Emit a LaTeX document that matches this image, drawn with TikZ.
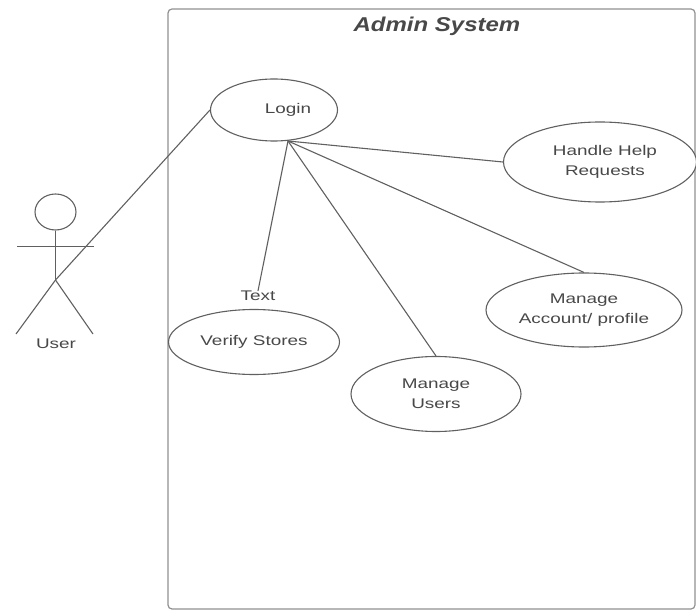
\documentclass[tikz,border=0pt]{standalone}
\usepackage{fontspec}
\setmainfont{Liberation Sans}
\newfontfamily\widefont[FakeStretch=1.35]{Liberation Sans}
\newfontfamily\widetitle[FakeStretch=1.2,BoldItalicFont={Liberation Sans Bold Italic}]{Liberation Sans}
\usetikzlibrary{shapes.geometric}
\definecolor{ln}{HTML}{606060}
\definecolor{tx}{HTML}{484848}
\tikzset{
 x=1pt,y=-1pt,
 uc/.style={draw=ln,line width=1.1pt,ellipse,fill=white,inner sep=0pt,align=center,font=\widefont\fontsize{14}{20}\selectfont,text=tx},
 conn/.style={draw=ln,line width=1.1pt},
 lbl/.style={font=\widefont\fontsize{14}{16}\selectfont,text=tx,inner sep=0pt}
}
\begin{document}
\begin{tikzpicture}
\useasboundingbox (0,0) rectangle (696,612);
\draw[ln!70,line width=1.2pt,rounded corners=4pt] (168,9) rectangle (695,609);
\node[font=\widetitle\bfseries\itshape\fontsize{20}{22}\selectfont,text=ln!75!black,inner sep=0pt] (title) at (437,26.5) {Admin System};
\node[uc,minimum width=127pt,minimum height=62pt] (login) at (274,110) {\hspace*{28pt}Login};
\node[uc,minimum width=193pt,minimum height=80pt] (help) at (600,162) {\hspace*{10pt}Handle Help\\\hspace*{10pt}Requests};
\node[uc,minimum width=196pt,minimum height=74pt] (acct) at (584,310) {Manage\\Account/ profile};
\node[uc,minimum width=171pt,minimum height=65pt] (verify) at (254,342) {Verify Stores};
\node[uc,minimum width=170pt,minimum height=75pt] (users) at (436,394) {Manage\\Users};
\coordinate (hub) at (288,141);
\node[lbl] (text) at (258,296) {Text};
\draw[conn] (hub) -- (help.west);
\draw[conn] (hub) -- (acct.north);
\draw[conn] (hub) -- (users.north);
\draw[conn] (hub) -- (text.north);
\node[draw=ln,line width=1.1pt,ellipse,minimum width=41pt,minimum height=36pt,inner sep=0pt] (head) at (55.5,212) {};
\coordinate (hip) at (55.5,280);
\coordinate (armL) at (17,246.5);
\coordinate (armR) at (94,246.5);
\coordinate (footL) at (16,334);
\coordinate (footR) at (93,334);
\draw[conn] (head.south) -- (hip);
\draw[conn] (armL) -- (armR);
\draw[conn] (hip) -- (footL);
\draw[conn] (hip) -- (footR);
\node[lbl] (user) at (56,344) {User};
\draw[conn] (hip) -- (login.west);
\end{tikzpicture}
\end{document}
